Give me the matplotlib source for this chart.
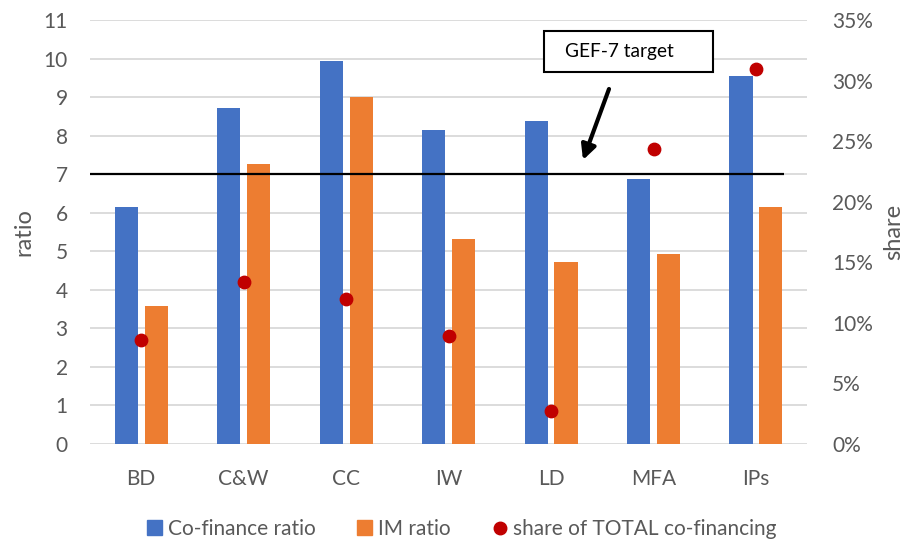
import matplotlib.pyplot as plt
import numpy as np
from matplotlib.patches import Rectangle, Patch
from matplotlib.lines import Line2D
from matplotlib.ticker import FuncFormatter

# data
categories = ["BD", "C&W", "CC", "IW", "LD", "MFA", "IPs"]
cofinance_ratio = [6.16, 8.72, 9.94, 8.16, 8.38, 6.89, 9.55]
im_ratio = [3.59, 7.28, 9.00, 5.32, 4.71, 4.94, 6.15]
share_total = [0.0855, 0.134, 0.120, 0.0886, 0.0268, 0.244, 0.310]
target = 7

blue = "#4472C4"
orange = "#ED7D31"
red = "#C00000"
grey = "#595959"

plt.rcParams['font.family'] = ['Lato', 'DejaVu Sans']

fig = plt.figure(figsize=(9.09, 5.39), dpi=100)
ax = fig.add_axes([0.099, 0.177, 0.789, 0.785])
ax2 = ax.twinx()

x = np.arange(len(categories))
w = 0.225
off = 0.146
ax.bar(x - off, cofinance_ratio, w, color=blue, zorder=3)
ax.bar(x + off, im_ratio, w, color=orange, zorder=3)
ax.hlines(target, -0.5, 6.27, color="black", lw=1.6, zorder=4)

ax2.scatter(x, share_total, s=80, color=red, zorder=5)

ax.set_xlim(-0.5, len(categories) - 0.5)
ax.set_ylim(0, 11)
ax.set_yticks(range(0, 12))
ax2.set_ylim(0, 0.35)
ax2.set_yticks(np.arange(0, 0.351, 0.05))
ax2.yaxis.set_major_formatter(FuncFormatter(lambda v, p: f"{v*100:.0f}%"))

ax.set_xticks(x)
ax.set_xticklabels(categories)
ax.yaxis.grid(True, color="#d9d9d9", lw=1.3, zorder=0)
ax.set_axisbelow(True)

for a in (ax, ax2):
    for s in a.spines.values():
        s.set_visible(False)
    a.tick_params(length=0, labelsize=15, colors=grey)
ax.tick_params(axis="y", pad=16)
ax.tick_params(axis="x", pad=18)
ax2.tick_params(axis="y", pad=18)

# axis titles, centred on the plot height
ylab = ax.set_ylabel("ratio", fontsize=17, color=grey)
ylab.set_va("center")
ax.yaxis.set_label_coords((24 - 90) / 717.5, 0.5)
ylab2 = ax2.set_ylabel("share", fontsize=17, color=grey)
ylab2.set_va("center")
ax2.yaxis.set_label_coords((894 - 90) / 717.5, 0.5)

# target callout box and arrow
fig.patches.append(Rectangle((544 / 909, 1 - 72 / 539), 169 / 909, 41 / 539,
                             transform=fig.transFigure, facecolor="white",
                             edgecolor="black", lw=1.5, zorder=6))
fig.text(565 / 909, 1 - 52 / 539, "GEF-7 target", fontsize=13.8, color="black",
         va="center", ha="left", zorder=7)
ax.annotate("", xy=(583, 539 - 160), xytext=(609, 539 - 89),
            xycoords="figure pixels", textcoords="figure pixels",
            arrowprops=dict(arrowstyle="-|>", color="black", lw=3,
                            mutation_scale=22, shrinkA=0, shrinkB=0))

handles = [Patch(color=blue), Patch(color=orange),
           Line2D([], [], marker="o", ls="", color=red, markersize=9)]
labels = ["Co-finance ratio", "IM ratio", "share of TOTAL co-financing"]
leg = fig.legend(handles, labels, loc="center", bbox_to_anchor=(0.508, 1 - 529 / 539),
                 ncol=3, frameon=False, fontsize=15, handlelength=0.7,
                 handleheight=0.7, handletextpad=0.3, columnspacing=2.0,
                 borderaxespad=0)
for t in leg.get_texts():
    t.set_color(grey)

fig.savefig("out.png", dpi=100)
